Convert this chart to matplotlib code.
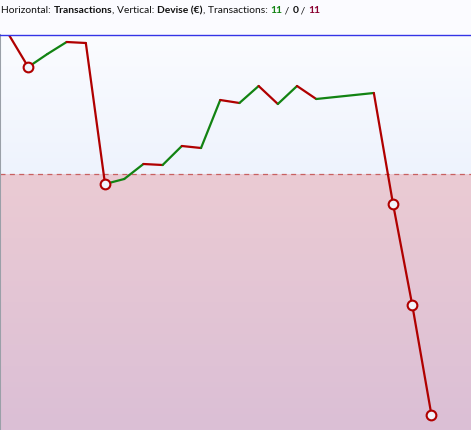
import numpy as np
import matplotlib.pyplot as plt
from matplotlib.colors import LinearSegmentedColormap

# transactions (index) and balance in currency
trans = [0, 1, 2, 3, 4, 5, 6, 7, 8, 9, 10, 11, 12, 13, 14, 15, 16, 19, 20, 21, 22]
balance = [139, 107, 120, 132, 131, -10, -5, 10, 9, 28, 26, 74, 71, 88, 70, 88, 75, 81, -30, -131, -241]
marked = [1, 5, 20, 21, 22]

n_win = 11
n_even = 0
n_loss = 11

red = '#b00000'
green = '#128312'

fig = plt.figure(figsize=(4.71, 4.31), dpi=100)
fig.patch.set_facecolor('#fbfbff')
ax = fig.add_axes([0, 0, 1, 395 / 431])

xmin, xmax = -0.47, 24.06
ymin, ymax = -256, 139
ax.set_xlim(xmin, xmax)
ax.set_ylim(ymin, ymax)

# background gradients
top_cm = LinearSegmentedColormap.from_list('t', ['#eef3fd', '#fbfcff'])
bot_cm = LinearSegmentedColormap.from_list('b', ['#dbbfd6', '#ebcbd3'])
grad = np.linspace(0, 1, 256).reshape(-1, 1)
ax.imshow(grad, cmap=top_cm, aspect='auto', origin='lower',
          extent=[xmin, xmax, 0, ymax], zorder=0)
ax.imshow(grad, cmap=bot_cm, aspect='auto', origin='lower',
          extent=[xmin, xmax, ymin, 0], zorder=0)
ax.set_xlim(xmin, xmax)
ax.set_ylim(ymin, ymax)

ax.axhline(0, color='#c86060', lw=0.9, ls=(0, (4, 3.5)), zorder=1)

for i in range(len(trans) - 1):
    c = green if balance[i + 1] > balance[i] else red
    ax.plot(trans[i:i + 2], balance[i:i + 2], color=c, lw=1.6,
            solid_capstyle='round', zorder=2)

mx = [trans[i] for i in range(len(trans)) if trans[i] in marked]
my = [balance[i] for i in range(len(trans)) if trans[i] in marked]
ax.plot(mx, my, 'o', ms=7, mfc='#f2f5fc', mec=red, mew=1.5, zorder=3)

for s in ['right', 'bottom']:
    ax.spines[s].set_visible(False)
ax.spines['top'].set_color('#3434e6')
ax.spines['top'].set_linewidth(1.0)
ax.spines['left'].set_color('#9aa0a8')
ax.spines['left'].set_linewidth(1.5)
ax.set_xticks([])
ax.set_yticks([])

# header text
parts = [('Horizontal: ', 'normal', '#111111'), ('Transactions', 'bold', '#111111'),
         (', Vertical: ', 'normal', '#111111'), ('Devise (€)', 'bold', '#111111'),
         (', Transactions: ', 'normal', '#111111'), (str(n_win), 'bold', green),
         (' / ', 'normal', '#111111'), (str(n_even), 'bold', '#111111'),
         (' / ', 'normal', '#111111'), (str(n_loss), 'bold', '#8a0030')]
fs = 7.4
t = fig.text(0.003, 1 - 13 / 431, parts[0][0], fontsize=fs, fontweight=parts[0][1],
             color=parts[0][2], family='Lato', va='baseline')
for txt, w, c in parts[1:]:
    t = ax.annotate(txt, xy=(1, 0), xycoords=t, fontsize=fs, fontweight=w,
                    color=c, family='Lato', va='bottom', annotation_clip=False)

fig.savefig('out.png', dpi=100, facecolor=fig.get_facecolor())
